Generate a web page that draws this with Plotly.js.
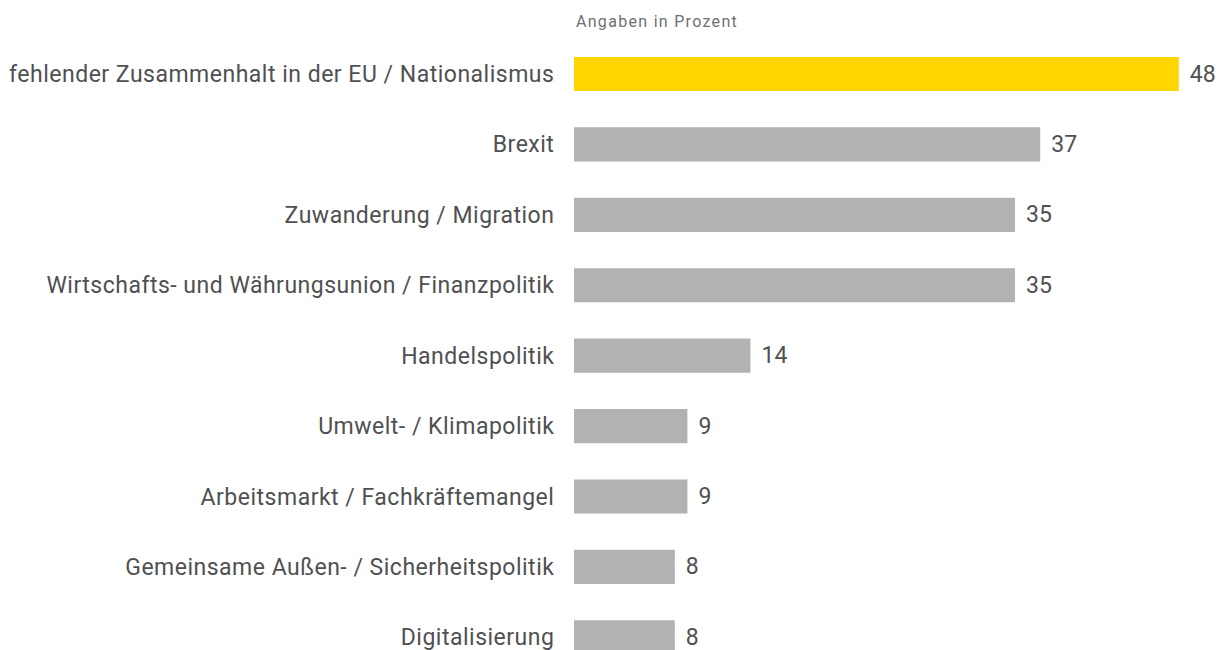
<!DOCTYPE html>
<html>
<head>
<meta charset="utf-8">
<script src="https://cdn.plot.ly/plotly-3.0.1.min.js"></script>
<style>
html,body{margin:0;padding:0;background:#fff;}
#chart{width:1220px;height:650px;}
#chart .ytick text{letter-spacing:0.5px;}
#chart .gtitle{letter-spacing:1.3px;}
</style>
</head>
<body>
<div id="chart"></div>
<script>
const categories = [
  "fehlender Zusammenhalt in der EU / Nationalismus",
  "Brexit",
  "Zuwanderung / Migration",
  "Wirtschafts- und Währungsunion / Finanzpolitik",
  "Handelspolitik",
  "Umwelt- / Klimapolitik",
  "Arbeitsmarkt / Fachkräftemangel",
  "Gemeinsame Außen- / Sicherheitspolitik",
  "Digitalisierung"
];
const values = [48, 37, 35, 35, 14, 9, 9, 8, 8];
const highlight = [true, false, false, false, false, false, false, false, false];
const titleText = "Angaben in Prozent";

const YELLOW = "#FFD600";
const GREY = "#B2B2B2";
const TEXT = "#505052";

const trace = {
  type: "bar",
  orientation: "h",
  x: values,
  y: categories,
  width: 0.485,
  marker: {
    color: highlight.map(h => h ? YELLOW : GREY),
    line: {width: 0}
  },
  text: values.map(v => "\u00A0\u200A" + v),
  textposition: "outside",
  cliponaxis: false,
  textfont: {family: "Roboto, sans-serif", size: 23, color: TEXT},
  hoverinfo: "skip"
};

const layout = {
  width: 1220,
  height: 650,
  margin: {l: 574, r: 0, t: 40, b: 0, pad: 0},
  paper_bgcolor: "#fff",
  plot_bgcolor: "#fff",
  showlegend: false,
  font: {family: "Roboto, sans-serif", color: TEXT},
  title: {
    text: titleText,
    xref: "container",
    x: 576 / 1220,
    xanchor: "left",
    yref: "container",
    y: 1 - 21 / 650,
    yanchor: "middle",
    font: {family: "Roboto, sans-serif", size: 16, color: "#707070"}
  },
  xaxis: {
    range: [0, 51.27],
    showgrid: false,
    zeroline: false,
    showline: false,
    showticklabels: false,
    ticks: "",
    fixedrange: true
  },
  yaxis: {
    type: "category",
    range: [8.18, -0.483],
    showgrid: false,
    zeroline: false,
    showline: false,
    ticks: "outside",
    ticklen: 14,
    tickcolor: "rgba(0,0,0,0)",
    tickfont: {family: "Roboto, sans-serif", size: 23, color: TEXT},
    fixedrange: true
  }
};

Plotly.newPlot("chart", [trace], layout, {displayModeBar: false, staticPlot: true});
</script>
</body>
</html>
